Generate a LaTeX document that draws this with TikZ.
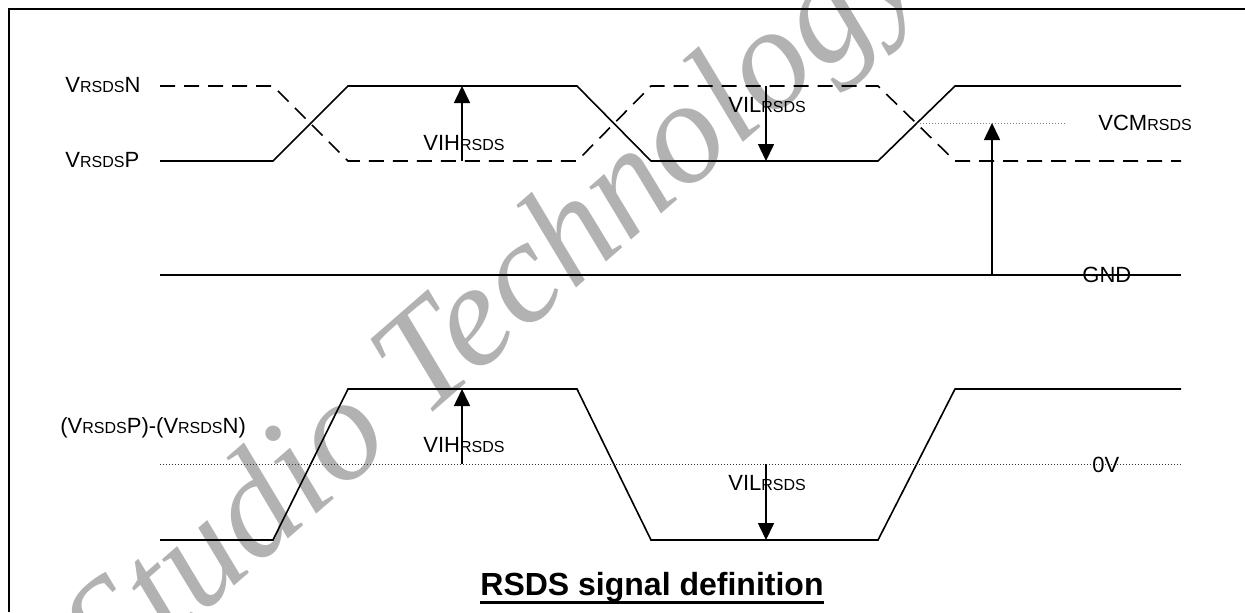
\documentclass[tikz,border=0pt]{standalone}
\usepackage{fontspec}
\setmainfont{Liberation Sans}
\newfontfamily\wmfont{Liberation Serif}
\usetikzlibrary{arrows.meta}
\newcommand{\rsdssub}{{\fontsize{8}{9}\selectfont RSDS}}
\tikzset{
  wave/.style={line width=0.8pt, line join=miter},
  dashwave/.style={wave, dash pattern=on 7.5pt off 4.5pt},
  refline/.style={line width=0.5pt, densely dotted},
  level/.style={-{Triangle[width=8pt,length=8.5pt]}, line width=0.8pt},
  lbl/.style={anchor=base west, inner sep=0pt, font=\fontsize{11}{13}\selectfont}
}
\begin{document}
\begin{tikzpicture}[x=0.5pt, y=-0.5pt]
            \useasboundingbox (0,0) rectangle (1245,612);
            \node[rotate=41, anchor=base west, inner sep=0pt, text=black!30,
                  font=\wmfont\itshape\fontsize{73}{80}\selectfont] (mark) at (114,690) {Studio Technology};
            \draw[line width=1pt] (9,612) -- (9,9) -- (1245,9);
            \draw[dashwave] (160,86) -- (273,86) -- (348,161) -- (577,161) -- (651,86)
                -- (878,86) -- (955,161) -- (1181,161);
            \draw[wave] (160,161) -- (273,161) -- (348,86) -- (577,86) -- (651,161)
                -- (878,161) -- (955,86) -- (1181,86);
            \draw[wave] (160,275) -- (1181,275);
            \draw[refline, gray] (917,123) -- (1067,123);
            \coordinate (vcmlo) at (992,275);
            \coordinate (vcmhi) at (992,123);
            \coordinate (vihlo) at (462,161);
            \coordinate (vihhi) at (462,86);
            \coordinate (villo) at (766,161);
            \coordinate (vilhi) at (766,86);
            \draw[level] (vcmlo) -- (vcmhi);
            \draw[level] (vihlo) -- (vihhi);
            \draw[level] (vilhi) -- (villo);
            \node[lbl] (vn) at (65,92) {V\rsdssub N};
            \node[lbl] (vp) at (65,167) {V\rsdssub P};
            \node[lbl] (vih) at (423,150) {VIH\rsdssub};
            \node[lbl] (vil) at (728,112) {VIL\rsdssub};
            \node[lbl] (vcm) at (1098,130) {VCM\rsdssub};
            \node[lbl] (gnd) at (1082,282) {GND};
            \draw[wave] (160,540) -- (273,540) -- (348,389) -- (577,389) -- (651,540)
                -- (878,540) -- (955,389) -- (1181,389);
            \draw[refline, black!80] (160,464) -- (1181,464);
            \coordinate (zero1) at (462,464);
            \coordinate (dhi) at (462,389);
            \coordinate (zero2) at (766,464);
            \coordinate (dlo) at (766,540);
            \draw[level] (zero1) -- (dhi);
            \draw[level] (zero2) -- (dlo);
            \node[lbl] (diff) at (60,433) {(V\rsdssub P)-(V\rsdssub N)};
            \node[lbl] (vihd) at (423,452) {VIH\rsdssub};
            \node[lbl] (vild) at (728,490) {VIL\rsdssub};
            \node[lbl] (zerov) at (1092,472) {0V};
            \node[anchor=base, inner sep=0pt, font=\bfseries\fontsize{16}{19}\selectfont] (title) at (652,595) {RSDS signal definition};
            \draw[line width=1.5pt] ([yshift=-3.5pt]title.base west) -- ([yshift=-3.5pt]title.base east);
\end{tikzpicture}
\end{document}
